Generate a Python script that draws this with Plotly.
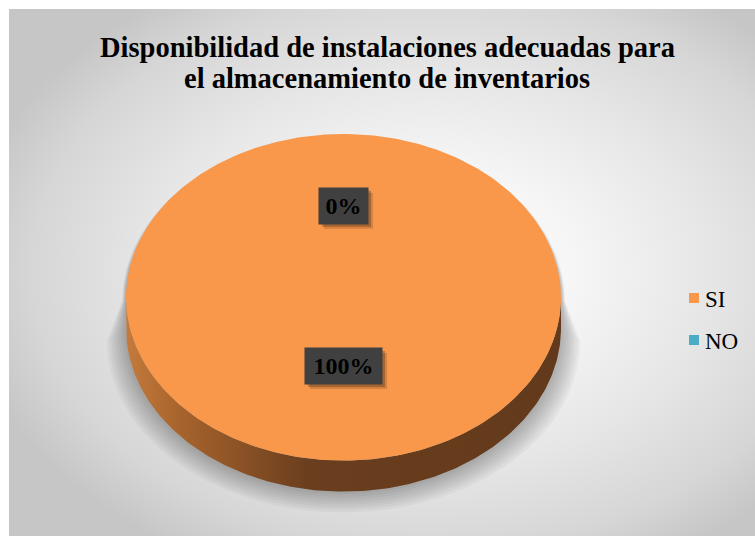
import numpy as np
import plotly.graph_objects as go

# ---- data ----
categories = ["SI", "NO"]
values = [100, 0]
top_colors = ["#f9974a", "#4bacc6"]
side_scales = [
    [[0, "#c47b3c"], [0.12, "#a8642d"], [0.42, "#6a3e1e"], [1, "#623a1b"]],
    [[0, "#3b8aa0"], [0.42, "#245667"], [1, "#1f4b5a"]],
]
title_lines = ["Disponibilidad de instalaciones adecuadas para",
               "el almacenamiento de inventarios"]

# ---- geometry of the tilted pie (pixel units) ----
W, H = 755, 536
CX, CY, RX, RY, DEPTH = 343.5, 297.3, 217.5, 163.3, 31
label_radius = [0.42, 0.56]   # radial placement of the data labels
SERIF = "Liberation Serif, Times New Roman, serif"


def ellipse_pts(thetas, dy=0.0, ex=0.0, ey=0.0):
    t = np.radians(thetas)
    return CX + (RX + ex) * np.sin(t), CY - (RY + ey) * np.cos(t) + dy


fig = go.Figure()

# chart-area background with a soft radial gradient
bx0, bx1, by0, by1 = -40, 900, -60, 600
fig.add_trace(go.Scatter(
    x=[bx0, bx1, bx1, bx0, bx0], y=[by0, by0, by1, by1, by0],
    mode="lines", line=dict(width=0), fill="toself",
    fillgradient=dict(type="radial", colorscale=[
        [0, "#fdfdfd"], [0.3, "#f6f6f6"], [0.6, "#e6e6e6"],
        [0.85, "#d6d6d6"], [1, "#c6c6c6"]]),
    hoverinfo="skip", showlegend=False))

# blurred shadow cast below the pie (wider towards the bottom)
for k in range(1, 9):
    back = np.linspace(-90, 90, 181)
    front = np.linspace(90, 270, 181)
    xb, yb = ellipse_pts(back, dy=4, ex=0.5 * k, ey=0.3 * k)
    xf, yf = ellipse_pts(front, dy=DEPTH + 1.6 * k, ex=2.4 * k, ey=1.0 * k)
    fig.add_trace(go.Scatter(
        x=np.concatenate([xb, xf, xb[:1]]), y=np.concatenate([yb, yf, yb[:1]]),
        mode="lines", line=dict(width=0), fill="toself",
        fillcolor="rgba(0,0,0,0.035)", hoverinfo="skip", showlegend=False))

total = sum(values)
start = 0.0
slices = []
for cat, v in zip(categories, values):
    sweep = 360.0 * v / total
    slices.append((start, start + sweep))
    start += sweep

# side walls: part of each slice's rim facing the viewer
for (a0, a1), scale in zip(slices, side_scales):
    lo, hi = max(a0, 90.0), min(a1, 270.0)
    if hi <= lo:
        continue
    th = np.linspace(lo, hi, 200)
    xt, yt = ellipse_pts(th)
    xb, yb = ellipse_pts(th[::-1], dy=DEPTH)
    fig.add_trace(go.Scatter(
        x=np.concatenate([xt, xb, xt[:1]]), y=np.concatenate([yt, yb, yt[:1]]),
        mode="lines", line=dict(width=0), fill="toself",
        fillgradient=dict(type="horizontal", colorscale=scale,
                          start=CX - RX, stop=CX + RX),
        hoverinfo="skip", showlegend=False))

# top faces
for (a0, a1), col, v in zip(slices, top_colors, values):
    if v <= 0:
        continue
    th = np.linspace(a0, a1, 361)
    xs, ys = ellipse_pts(th)
    fig.add_trace(go.Scatter(
        x=np.concatenate([[CX], xs, [CX]]), y=np.concatenate([[CY], ys, [CY]]),
        mode="lines", line=dict(width=0), fill="toself", fillcolor=col,
        hoverinfo="skip", showlegend=False))

annotations = []
shapes = []

# data labels on dark boxes with a drop shadow
PAD, BOX_H = 5, 26
for (a0, a1), v, rf in zip(slices, values, label_radius):
    pct = 100.0 * v / total
    txt = f"{pct:.0f}%"
    mid = (a0 + a1) / 2.0
    lx, ly = ellipse_pts([mid])
    lx = CX + (lx[0] - CX) * rf
    ly = CY + (ly[0] - CY) * rf
    box_w = 14 * len(txt) + 11
    half_w = box_w / 2 + PAD
    half_h = BOX_H / 2 + PAD
    for off, c in [(5, "rgba(0,0,0,0.14)"), (3, "rgba(0,0,0,0.22)")]:
        shapes.append(dict(
            type="rect", xref="x", yref="y", layer="above",
            x0=lx - half_w + off, x1=lx + half_w + off,
            y0=ly - half_h + off, y1=ly + half_h + off,
            fillcolor=c, line=dict(width=0)))
    annotations.append(dict(
        x=lx, y=ly, xref="x", yref="y", text=f"<b>{txt}</b>", showarrow=False,
        width=box_w, height=BOX_H, borderpad=PAD, bgcolor="#404040",
        font=dict(family=SERIF, size=24, color="#000000")))

# title, one annotation per line
for i, line in enumerate(title_lines):
    annotations.append(dict(
        x=387, y=47 + 31 * i, xref="x", yref="y", text=f"<b>{line}</b>",
        showarrow=False, yanchor="middle", xanchor="center",
        font=dict(family=SERIF, size=28.5, color="#000000")))

# legend: colour swatch + category name
for i, (cat, col) in enumerate(zip(categories, top_colors)):
    ly = 298 + 42 * i
    shapes.append(dict(
        type="rect", xref="x", yref="y", layer="above",
        x0=689, x1=699, y0=ly - 5, y1=ly + 5,
        fillcolor=col, line=dict(width=0)))
    annotations.append(dict(
        x=703, y=ly + 1, xref="x", yref="y", text=cat, showarrow=False,
        xanchor="left", yanchor="middle",
        font=dict(family=SERIF, size=23, color="#000000")))

fig.update_layout(
    width=W, height=H,
    margin=dict(l=9, r=0, t=9, b=0, pad=0),
    paper_bgcolor="#ffffff", plot_bgcolor="#ffffff",
    xaxis=dict(range=[9, W], visible=False, fixedrange=True),
    yaxis=dict(range=[H, 9], visible=False, fixedrange=True),
    annotations=annotations,
    shapes=shapes,
    showlegend=False,
)

fig.write_html("out.html")
